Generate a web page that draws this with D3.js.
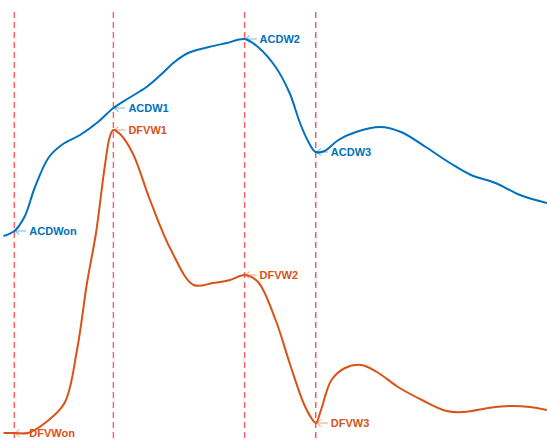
<!DOCTYPE html>
<html>
<head>
<meta charset="utf-8">
<script src="https://cdn.jsdelivr.net/npm/d3@7"></script>
<style>
  html, body { margin: 0; padding: 0; background: #fff; }
  svg { display: block; }
</style>
</head>
<body>
<svg id="chart" width="547" height="442"></svg>
<script>
// Time samples (arbitrary units) and the two traces
const acdwT = [3.5, 14.3, 24.4, 35, 49, 63, 80, 98, 113.4, 129, 146.5, 160.5, 174.5, 188, 209, 227, 244.6, 258, 275.6, 289.6, 300, 309, 315.8, 324.5, 338.4, 356, 380, 401, 425.7, 450, 471, 495.5, 520, 547];
const acdwV = [206, 211, 225, 255, 285, 298, 307, 320, 334, 344, 355, 367, 380, 389, 395, 399, 403, 395, 375, 349, 319, 299, 290, 291, 302, 310, 315, 310, 295, 279, 267, 259, 247, 239];

const dfvwT = [3.5, 14.3, 28, 45, 64.5, 77, 87, 96, 104.7, 110, 113.4, 120, 132.6, 150, 171, 193.6, 213, 230, 244.6, 258, 275.6, 289.6, 303.5, 312, 315.8, 321, 331.5, 345, 361, 377, 398, 422, 446.6, 464, 488.5, 509, 530, 547];
const dfvwV = [9, 9, 9, 19, 39, 92, 159, 209, 275, 306, 312, 308, 289, 242, 192, 157, 159, 162, 167, 160, 122, 79, 39, 23, 19, 32, 62, 74, 77, 70, 55, 42, 31, 30, 34, 36, 35, 32];

// Event markers: time of each vertical line
const eventT = [14.3, 113.4, 244.6, 315.8];

// Annotated points: label, time, value, series
const acdwLabels = ["ACDWon", "ACDW1", "ACDW2", "ACDW3"];
const acdwMarkT = [14.3, 113.4, 244.6, 315.8];
const acdwMarkV = [211, 334, 403, 290];
const dfvwLabels = ["DFVWon", "DFVW1", "DFVW2", "DFVW3"];
const dfvwMarkT = [14.3, 113.4, 244.6, 315.8];
const dfvwMarkV = [9, 312, 167, 19];

const W = 547, H = 442;
const svg = d3.select("#chart");

const x = d3.scaleLinear().domain([0, 547]).range([0, W]);
const y = d3.scaleLinear().domain([0, 442]).range([H, 0]);

const blue = "#0072BD";
const orange = "#D95319";

// Vertical dashed event lines
const lineColors = ["#ff5a5f", "#ff5a5f", "#ff5a5f", "#e02a2a"];
svg.selectAll("line.event")
  .data(eventT)
  .enter().append("line")
  .attr("class", "event")
  .attr("x1", d => x(d)).attr("x2", d => x(d))
  .attr("y1", 12).attr("y2", H)
  .attr("stroke", (d, i) => lineColors[i])
  .attr("stroke-width", (d, i) => i < 3 ? 1.4 : 1.1)
  .attr("stroke-dasharray", "6,4");

const line = d3.line()
  .x(d => x(d[0]))
  .y(d => y(d[1]))
  .curve(d3.curveCatmullRom.alpha(0.5));

svg.append("path")
  .datum(d3.zip(acdwT, acdwV))
  .attr("d", line)
  .attr("fill", "none")
  .attr("stroke", blue)
  .attr("stroke-width", 2);

svg.append("path")
  .datum(d3.zip(dfvwT, dfvwV))
  .attr("d", line)
  .attr("fill", "none")
  .attr("stroke", orange)
  .attr("stroke-width", 2);

// Annotations: a faint left arrow pointing at the mark, then the bold label
function annotate(labels, ts, vs, color) {
  labels.forEach((lab, i) => {
    const px = x(ts[i]), py = y(vs[i]);
    const g = svg.append("g").attr("opacity", 1);
    g.append("line")
      .attr("x1", px + 1).attr("x2", px + 12)
      .attr("y1", py).attr("y2", py)
      .attr("stroke", color).attr("stroke-opacity", 0.45).attr("stroke-width", 1.2);
    g.append("path")
      .attr("d", `M${px + 5},${py - 3.5} L${px + 1},${py} L${px + 5},${py + 3.5}`)
      .attr("fill", "none")
      .attr("stroke", color).attr("stroke-opacity", 0.45).attr("stroke-width", 1.1);
    g.append("text")
      .attr("x", px + 15)
      .attr("y", py)
      .attr("dy", "0.36em")
      .attr("fill", color)
      .attr("font-family", "Liberation Sans, Arial, sans-serif")
      .attr("font-weight", "bold")
      .attr("font-size", 11)
      .text(lab);
  });
}
annotate(acdwLabels, acdwMarkT, acdwMarkV, blue);
annotate(dfvwLabels, dfvwMarkT, dfvwMarkV, orange);
</script>
</body>
</html>
